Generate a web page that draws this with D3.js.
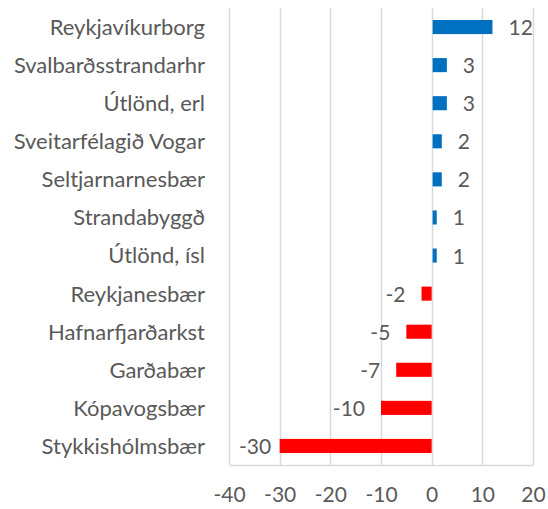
<!DOCTYPE html>
<html>
<head>
<meta charset="utf-8">
<script src="https://cdn.jsdelivr.net/npm/d3@7"></script>
<style>
  html, body { margin: 0; padding: 0; background: #fff; }
  svg text { font-family: Lato, "Open Sans", sans-serif; fill: #595959; }
</style>
</head>
<body>
<svg id="chart" width="548" height="509"></svg>
<script>
// Net change per municipality
const categories = [
  "Reykjavíkurborg", "Svalbarðsstrandarhr", "Útlönd, erl", "Sveitarfélagið Vogar",
  "Seltjarnarnesbær", "Strandabyggð", "Útlönd, ísl", "Reykjanesbær",
  "Hafnarfjarðarkst", "Garðabær", "Kópavogsbær", "Stykkishólmsbær"
];
const values = [12, 3, 3, 2, 2, 1, 1, -2, -5, -7, -10, -30];
const tickValues = [-40, -30, -20, -10, 0, 10, 20];

const svg = d3.select("#chart");
const margin = { top: 8, right: 15, bottom: 44, left: 229 };
const width = 548, height = 509;
const labelSize = 22;
const numberSize = 21;

const x = d3.scaleLinear()
  .domain([-40, 20])
  .range([margin.left, width - margin.right]);

const y = d3.scaleBand()
  .domain(categories)
  .range([margin.top, height - margin.bottom])
  .paddingInner(0.63)
  .paddingOuter(0.315);

// vertical gridlines
svg.append("g")
  .selectAll("line")
  .data(tickValues)
  .join("line")
  .attr("x1", d => Math.round(x(d)) + 0.5)
  .attr("x2", d => Math.round(x(d)) + 0.5)
  .attr("y1", margin.top)
  .attr("y2", height - margin.bottom)
  .attr("stroke", "#d9d9d9")
  .attr("stroke-width", 1.5);

// horizontal axis with tick labels
const xAxis = svg.append("g")
  .attr("transform", `translate(0,${height - margin.bottom})`)
  .call(d3.axisBottom(x).tickValues(tickValues).tickFormat(d => String(d)).tickSize(0).tickPadding(28));
xAxis.select(".domain").attr("stroke", "#d9d9d9").attr("stroke-width", 1.5);
xAxis.selectAll("text")
  .style("font-family", "Lato, 'Open Sans', sans-serif")
  .attr("font-size", numberSize)
  .attr("fill", "#595959")
  .attr("dy", "0.45em");

// category labels
svg.append("g")
  .selectAll("text")
  .data(categories)
  .join("text")
  .attr("x", margin.left - 24)
  .attr("y", d => y(d) + y.bandwidth() / 2)
  .attr("dy", "0.36em")
  .attr("text-anchor", "end")
  .attr("font-size", labelSize)
  .text(d => d);

const rows = categories.map((c, i) => ({ c, v: values[i] }));

// bars
svg.append("g")
  .selectAll("rect")
  .data(rows)
  .join("rect")
  .attr("x", d => d.v >= 0 ? x(0) + 1 : x(d.v))
  .attr("width", d => Math.abs(x(d.v) - x(0)) - (d.v >= 0 ? 1 : 0))
  .attr("y", d => y(d.c))
  .attr("height", y.bandwidth())
  .attr("fill", d => d.v >= 0 ? "#0070c0" : "#ff0000");

// value labels, kept inside the plot area on the left
svg.append("g")
  .selectAll("text")
  .data(rows)
  .join("text")
  .attr("y", d => y(d.c) + y.bandwidth() / 2)
  .attr("dy", "0.38em")
  .attr("font-size", numberSize)
  .text(d => d.v)
  .each(function (d) {
    const t = d3.select(this);
    if (d.v >= 0) {
      t.attr("text-anchor", "start").attr("x", x(d.v) + 16);
    } else {
      const w = this.getComputedTextLength();
      const xr = Math.max(x(d.v) - 16, margin.left + 10 + w);
      t.attr("text-anchor", "end").attr("x", xr);
    }
  });
</script>
</body>
</html>
